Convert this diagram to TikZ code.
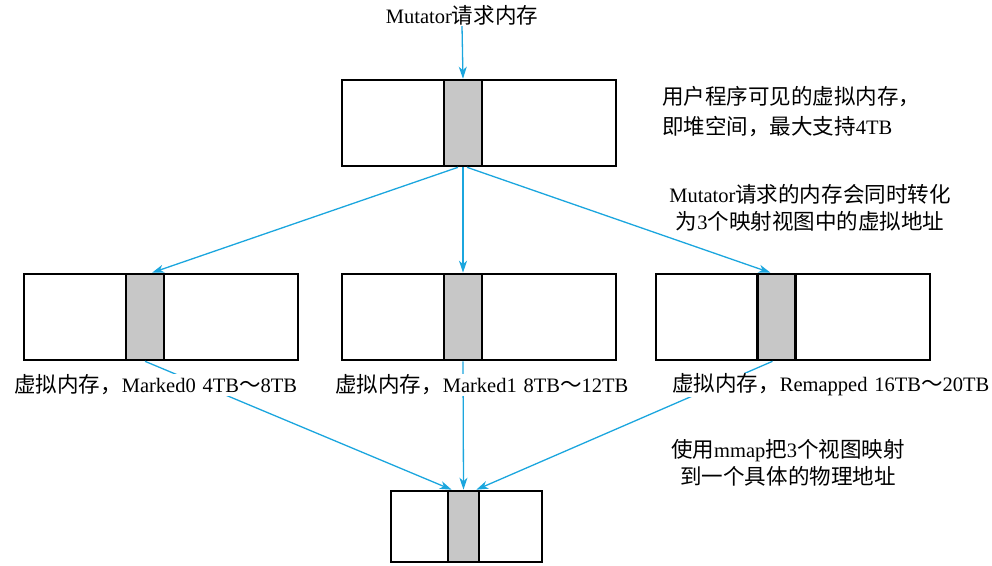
\documentclass[tikz,border=0pt]{standalone}
\usepackage{fontspec}
\setmainfont{Liberation Serif}
\newfontfamily\cjk[Scale=1.05]{Noto Sans CJK SC}
\newcommand\zhs[1]{{\cjk #1}}
\usetikzlibrary{arrows.meta}
\definecolor{arrowblue}{RGB}{27,166,222}
\definecolor{cellgray}{RGB}{199,199,199}
\begin{document}
\begin{tikzpicture}[x=1pt,y=-1pt,
  box/.style={draw,line width=2.6pt,minimum width=274pt,minimum height=86pt,inner sep=0pt,fill=white},
  cell/.style={draw,line width=2.6pt,fill=cellgray,minimum width=38pt,minimum height=86pt,inner sep=0pt},
  conn/.style={draw=arrowblue,line width=1.3pt,-{Stealth[length=12pt,width=8pt,inset=3.5pt]}},
  txt/.style={font=\fontsize{20.5}{28}\selectfont,inner sep=1pt},
  lbl/.style={txt,fill=white,anchor=west}]
\useasboundingbox (0,0) rectangle (992,565);
% boxes
\node[box] (top) at (479,123) {};
\node[cell] (topc) at (463,123) {};
\node[box] (left) at (161,317) {};
\node[cell] (leftc) at (145,317) {};
\node[box] (mid) at (479,317) {};
\node[cell] (midc) at (463,317) {};
\node[box] (right) at (793,317) {};
\node[cell] (rightc) at (776.5,317) {};
\node[box,minimum width=151pt,minimum height=71pt] (bot) at (466.5,526.5) {};
\node[cell,minimum width=31pt,minimum height=71pt] (botc) at (463.5,526.5) {};
% texts
\node[txt] (req) at (462,15) {Mutator\zhs{请求内存}};
\node[txt,anchor=west,align=left,font=\fontsize{20.5}{30}\selectfont] (note1) at (661,112)
  {\zhs{用户程序可见的虚拟内存，}\\\zhs{即堆空间，最大支持}4TB};
\node[txt,align=center,font=\fontsize{20.5}{27}\selectfont] (note2) at (810,208)
  {Mutator\zhs{请求的内存会同时转化}\\\zhs{为}3\zhs{个映射视图中的虚拟地址}};
\node[txt,align=center,font=\fontsize{20.5}{27}\selectfont] (note3) at (788,463)
  {\zhs{使用}mmap\zhs{把}3\zhs{个视图映射}\\\zhs{到一个具体的物理地址}};
% connectors
\draw[conn] (req.south) -- (topc.north);
\draw[conn] ([xshift=-5pt]topc.south) -- ([xshift=7pt]leftc.north);
\draw[conn] (topc.south) -- (midc.north);
\draw[conn] ([xshift=4pt]topc.south) -- ([xshift=-6pt]rightc.north);
\draw[conn] (leftc.south) -- ([xshift=5pt]botc.north west);
\draw[conn] (midc.south) -- (botc.north);
\draw[conn] ([xshift=-4pt]rightc.south) -- ([xshift=-4pt]botc.north east);
% labels on top of connectors
\node[lbl] (l1) at (13,385) {\zhs{虚拟内存，}Marked0\,\,4TB\zhs{～}8TB};
\node[lbl] (l2) at (334,385) {\zhs{虚拟内存，}Marked1\,\,8TB\zhs{～}12TB};
\node[lbl] (l3) at (671,385) {\zhs{虚拟内存，}Remapped\,\,16TB\zhs{～}20TB};
\end{tikzpicture}
\end{document}
